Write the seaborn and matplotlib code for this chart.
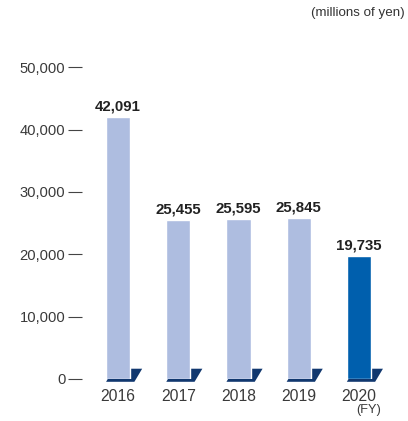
import matplotlib
matplotlib.use("Agg")
import matplotlib.pyplot as plt
from matplotlib.patches import Polygon
from matplotlib import font_manager
import seaborn as sns
import pandas as pd

years = ["2016", "2017", "2018", "2019", "2020"]
values = [42091, 25455, 25595, 25845, 19735]
bar_colors = ["#aebde0", "#aebde0", "#aebde0", "#aebde0", "#005fad"]
shadow_color = "#11386f"
y_ticks = [0, 10000, 20000, 30000, 40000, 50000]

sns.set_theme(style="white")
names = {f.name for f in font_manager.fontManager.ttflist}
base = "Liberation Sans Narrow" if "Liberation Sans Narrow" in names else "Liberation Sans"
plt.rcParams["font.family"] = [base, "DejaVu Sans"]

W, H = 408, 421
fig = plt.figure(figsize=(W / 100, H / 100), dpi=100)
ax = fig.add_axes([82 / W, (H - 379) / H, (395 - 82) / W, 343 / H])

df = pd.DataFrame({"year": years, "value": values})
sns.barplot(data=df, x="year", y="value", hue="year", palette=bar_colors,
            legend=False, width=0.4, saturation=1, ax=ax, zorder=3)

ax.set_xlim(-0.6, 4.6)
ax.set_ylim(0, 55000)

# floor shadow under each bar
for bar, val in zip(ax.patches, values):
    xl = bar.get_x()
    xr = xl + bar.get_width()
    poly = Polygon([(xl, -450), (xr + 0.07, -450), (xr + 0.2, 1650), (xl + 0.13, 1650)],
                   closed=True, facecolor=shadow_color, edgecolor="none",
                   zorder=2, clip_on=False)
    ax.add_patch(poly)
    ax.text(xl + bar.get_width() / 2, val + 550, f"{val:,}", ha="center", va="bottom",
            fontsize=10.8, fontweight="bold", color="#222222")

for s in ax.spines.values():
    s.set_visible(False)

ax.set_yticks(y_ticks)
ax.set_yticklabels([f"{t:,}" for t in y_ticks])
ax.tick_params(axis="y", left=True, length=10, width=0.8, color="#444444", pad=2,
               labelsize=10.6, labelcolor="#3a3a3a", direction="out")
ax.tick_params(axis="x", bottom=False, pad=1, labelsize=11.3, labelcolor="#3a3a3a")
ax.set_xlabel("")
ax.set_ylabel("")
ax.grid(False)

fig.text(405 / W, 1 - 13 / H, "(millions of yen)", ha="right", va="center",
         fontsize=9.6, color="#333333")
ax.text(4.17, -0.09, "(FY)", transform=ax.get_xaxis_transform(), ha="center", va="center",
        fontsize=9.2, color="#3a3a3a")

fig.savefig("out.png", dpi=100)
